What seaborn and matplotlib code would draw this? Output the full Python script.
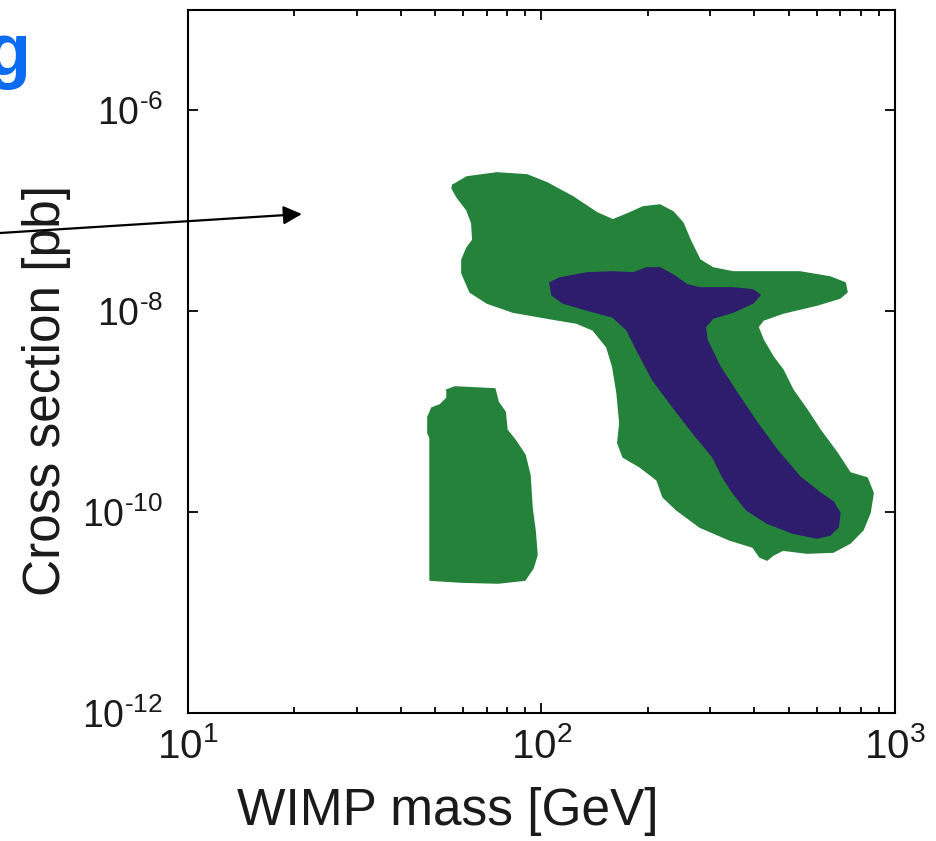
import numpy as np
import pandas as pd
import matplotlib
matplotlib.use("Agg")
import matplotlib.pyplot as plt
from matplotlib.ticker import FixedLocator, NullLocator, LogLocator, FuncFormatter, NullFormatter
import seaborn as sns

# ---- data (log10 of WIMP mass [GeV] and of cross section [pb]) ----
outer_logm = [1.750, 1.789, 1.874, 1.959, 2.016, 2.089, 2.157, 2.202, 2.250, 2.287,
              2.335, 2.372, 2.400, 2.420, 2.448, 2.485, 2.542, 2.638, 2.731, 2.816,
              2.859, 2.864, 2.844, 2.779, 2.683, 2.627, 2.612, 2.627, 2.655, 2.683,
              2.711, 2.751, 2.788, 2.836, 2.873, 2.921, 2.938, 2.929, 2.909, 2.873,
              2.825, 2.751, 2.683, 2.655, 2.638, 2.618, 2.598, 2.533, 2.448, 2.383,
              2.344, 2.327, 2.279, 2.231, 2.216, 2.222, 2.214, 2.202, 2.185, 2.146,
              2.100, 2.016, 1.919, 1.846, 1.798, 1.775, 1.775, 1.789, 1.806, 1.803,
              1.789, 1.761, 1.747]
outer_logs = [-6.743, -6.663, -6.623, -6.643, -6.723, -6.862, -7.021, -7.091, -7.021, -6.962,
              -6.942, -7.011, -7.121, -7.290, -7.489, -7.569, -7.609, -7.609, -7.609, -7.659,
              -7.718, -7.808, -7.868, -7.937, -8.017, -8.087, -8.156, -8.286, -8.455, -8.585,
              -8.784, -8.983, -9.182, -9.411, -9.610, -9.660, -9.809, -10.008, -10.178, -10.307,
              -10.397, -10.407, -10.377, -10.427, -10.476, -10.447, -10.347, -10.277, -10.148, -9.979,
              -9.849, -9.680, -9.550, -9.451, -9.311, -9.112, -8.814, -8.555, -8.356, -8.186,
              -8.117, -8.067, -8.007, -7.917, -7.808, -7.619, -7.489, -7.370, -7.290, -7.121,
              -6.991, -6.862, -6.772]

inner_logm = [2.024, 2.052, 2.129, 2.202, 2.259, 2.298, 2.335, 2.372, 2.412, 2.448,
              2.542, 2.598, 2.618, 2.598, 2.542, 2.485, 2.463, 2.468, 2.505, 2.553,
              2.610, 2.666, 2.731, 2.788, 2.825, 2.844, 2.839, 2.816, 2.779, 2.711,
              2.638, 2.581, 2.542, 2.513, 2.485, 2.429, 2.372, 2.315, 2.270, 2.242,
              2.202, 2.129, 2.061, 2.030]
inner_logs = [-7.718, -7.669, -7.619, -7.609, -7.619, -7.569, -7.569, -7.639, -7.738, -7.768,
              -7.768, -7.788, -7.838, -7.917, -8.007, -8.067, -8.156, -8.286, -8.555, -8.814,
              -9.112, -9.381, -9.650, -9.809, -9.899, -10.008, -10.148, -10.228, -10.257, -10.208,
              -10.108, -9.979, -9.809, -9.650, -9.451, -9.212, -8.953, -8.684, -8.385, -8.186,
              -8.057, -7.987, -7.917, -7.838]

island_logm = [1.733, 1.755, 1.868, 1.877, 1.897, 1.902, 1.925, 1.953, 1.967, 1.973,
               1.982, 1.987, 1.976, 1.953, 1.877, 1.775, 1.685, 1.685, 1.685, 1.679,
               1.679, 1.690, 1.713, 1.733]
island_logs = [-8.784, -8.754, -8.774, -8.903, -9.003, -9.182, -9.282, -9.431, -9.630, -9.959,
               -10.198, -10.427, -10.556, -10.676, -10.705, -10.696, -10.676, -9.959, -9.262, -9.212,
               -9.053, -8.963, -8.933, -8.863]

region_names = ["outer_main", "island", "inner"]
region_colors = {"outer_main": "#24823A", "island": "#24823A", "inner": "#2E1C6C"}

HY = "\u2010"
x_ticks = [10, 100, 1000]
x_tick_labels = [r"$\mathregular{10^{1}}$", r"$\mathregular{10^{2}}$", r"$\mathregular{10^{3}}$"]
y_ticks = [1e-12, 1e-10, 1e-8, 1e-6]
y_tick_labels = [r"$\mathregular{10^{" + HY + "12}}$", r"$\mathregular{10^{" + HY + "10}}$",
                 r"$\mathregular{10^{" + HY + "8}}$", r"$\mathregular{10^{" + HY + "6}}$"]

arrow_tip = (21.0, 9.3e-8)

# ---- build table ----
def closed(lm, ls):
    m = np.power(10.0, np.array(lm + lm[:1]))
    s = np.power(10.0, np.array(ls + ls[:1]))
    return m, s

frames = []
for name, lm, ls in [("outer_main", outer_logm, outer_logs),
                     ("island", island_logm, island_logs),
                     ("inner", inner_logm, inner_logs)]:
    m, s = closed(lm, ls)
    frames.append(pd.DataFrame({"mass": m, "sigma": s, "region": name}))
df = pd.concat(frames, ignore_index=True)

sns.set_theme(style="ticks")
plt.rcParams["font.family"] = ["Liberation Sans", "DejaVu Sans"]
plt.rcParams["mathtext.default"] = "regular"

fig = plt.figure(figsize=(9.37, 8.41), dpi=100)
ax = fig.add_axes([188 / 937, 1 - 713 / 841, 707 / 937, 703 / 841])
ax.set_xscale("log")
ax.set_yscale("log")

for name in region_names:
    sub = df[df.region == name]
    ax.fill(sub["mass"], sub["sigma"], color=region_colors[name], lw=0,
            zorder=2 if name != "inner" else 3)

sns.lineplot(data=df, x="mass", y="sigma", hue="region", units="region", estimator=None,
             sort=False, palette=region_colors, hue_order=region_names, linewidth=1.2,
             legend=False, ax=ax)
for line in ax.lines:
    name = None
    line.set_zorder(2.5)
# inner outline above the outer fill
inner_lines = [l for l in ax.lines if matplotlib.colors.to_hex(l.get_color()).lower() == region_colors["inner"].lower()]
for l in inner_lines:
    l.set_zorder(3.5)

ax.set_xlim(10, 1000)
ax.set_ylim(1e-12, 1e-5)

ax.xaxis.set_major_locator(FixedLocator(x_ticks))
ax.xaxis.set_minor_locator(LogLocator(base=10, subs=np.arange(2, 10)))
ax.xaxis.set_minor_formatter(NullFormatter())
ax.xaxis.set_major_formatter(FuncFormatter(
    lambda v, p: x_tick_labels[x_ticks.index(int(round(v)))] if int(round(v)) in x_ticks else ""))
ax.yaxis.set_major_locator(FixedLocator(y_ticks))
ax.yaxis.set_minor_locator(NullLocator())
ax.set_yticklabels(y_tick_labels)

ax.tick_params(axis="both", which="both", direction="in", top=True, right=True, color="black")
ax.tick_params(axis="both", which="major", length=7, width=1.3)
ax.tick_params(axis="both", which="minor", length=4, width=1.3)
ax.tick_params(axis="x", which="major", labelsize=29, pad=10, labelcolor="#1a1a1a")
ax.tick_params(axis="y", which="major", labelsize=27, pad=18, labelcolor="#1a1a1a")

for sp in ax.spines.values():
    sp.set_color("black")
    sp.set_linewidth(1.5)

ax.set_xlabel("WIMP mass [GeV]", fontsize=37, color="#1a1a1a")
ax.set_ylabel("Cross section [pb]", fontsize=37, color="#1a1a1a")
ax.xaxis.set_label_coords((448 - 188) / 707, (713 - 812) / 703)
ax.yaxis.set_label_coords((47 - 188) / 707, (713 - 391) / 703)
ax.xaxis.label.set_va("center")
ax.yaxis.label.set_va("center")

ax.annotate("", xy=arrow_tip, xycoords="data", xytext=(0.0, 1 - 233 / 841),
            textcoords="figure fraction", annotation_clip=False,
            arrowprops=dict(arrowstyle="-|>", color="black", lw=1.6,
                            mutation_scale=28, shrinkA=0, shrinkB=0))

fig.text(31 / 937, 1 - 75 / 841, "g", ha="right", va="baseline", fontsize=53,
         fontweight="bold", color="#0B6CF2")

fig.savefig("out.png", dpi=100)
